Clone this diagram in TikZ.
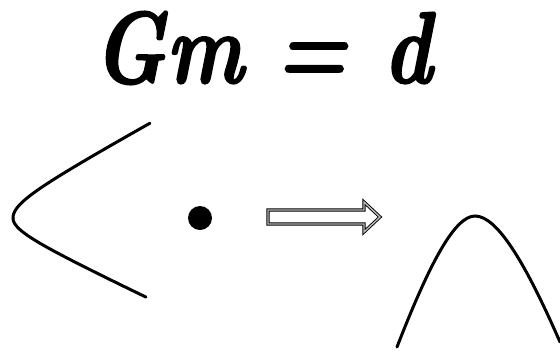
\documentclass[tikz,border=0pt]{standalone}
\usepackage{fontspec}
\newfontfamily\eqfont{Latin Modern Roman}[BoldItalicFeatures={FakeBold=1.6, FakeStretch=0.8}]
\begin{document}
\begin{tikzpicture}[x=1pt,y=-1pt,
  curve/.style={line width=3pt, black, line cap=round},
  hollowarrow/.style={draw=black, line width=0.9pt, double=gray!55, double distance=1.4pt, line join=miter}]
\useasboundingbox (0,0) rectangle (560,354);
% equation
\node[anchor=base west, inner sep=0pt] (eq) at (93,83)
  {\fontsize{102}{102}\selectfont\eqfont\bfseries\itshape Gm\hspace{32pt}=\hspace{36pt}d};
% hyperbola
\draw[curve] plot[domain=0:2.167, samples=60, smooth]
  ({-27+40*cosh(\x)},{218-22*sinh(\x)});
\draw[curve] plot[domain=0:2.144, samples=60, smooth]
  ({-27+40*cosh(\x)},{218+18.8*sinh(\x)});
% dot
\node[circle, fill=black, minimum size=24pt, inner sep=0pt] (dot) at (200,218) {};
% hollow arrow
\draw[hollowarrow] (268,210) -- (364,210) -- (364,202) -- (380,217)
  -- (364,232) -- (364,224) -- (268,224) -- cycle;
% bell curve
\draw[curve] (397,347) .. controls (430,262) and (455,216) .. (475,216)
  .. controls (497,216) and (525,262) .. (560,342);
\end{tikzpicture}
\end{document}
